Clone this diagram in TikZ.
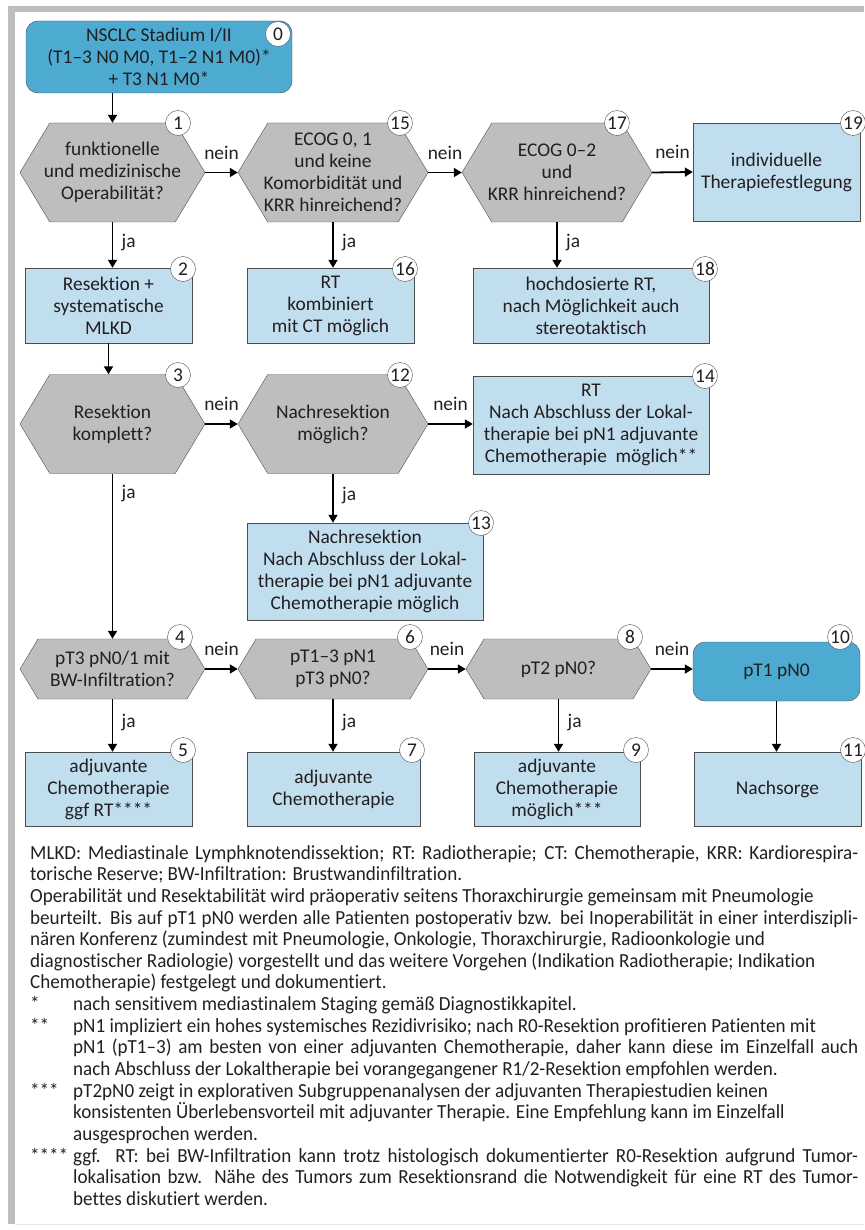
\documentclass[tikz,border=0pt]{standalone}
\usepackage{fontspec}
\setmainfont{Carlito}[Ligatures={TeX,NoCommon}]
\newfontfamily\notefont{Carlito}[Ligatures={TeX,NoCommon}, FakeStretch=0.955]
\usetikzlibrary{arrows.meta,shapes.symbols}
\definecolor{grau}{HTML}{BCBEC0}
\definecolor{hellblau}{HTML}{C1DEEF}
\definecolor{dunkelblau}{HTML}{4DAAD1}
\definecolor{linie}{HTML}{4D4D4F}
\definecolor{schrift}{HTML}{231F20}

\begin{document}
\begin{tikzpicture}[x=1pt,y=-1pt,
    every node/.style={text=schrift, font=\fontsize{19.4}{22}\selectfont},
    gr/.style 2 args={minimum width=#1pt, minimum height=#2pt},
    frage/.style={signal, signal to=west and east, signal pointer angle=118, draw=linie, fill=grau, inner xsep=-15pt, inner ysep=0pt, gr={185}{99}, align=center},
    kasten/.style={rectangle, draw=linie, fill=hellblau, inner sep=0pt, align=center},
    start/.style={kasten, fill=dunkelblau, rounded corners=12pt},
    nr/.style={circle, draw=linie, fill=white, inner sep=0pt, minimum size=25pt},
    pfeil/.style={line width=1.8pt, -{Triangle[length=8pt,width=9pt]}}]
    \useasboundingbox (0,0) rectangle (864,1230);
    \fill[grau] (8,6) rectangle (864,12);
    \fill[grau] (8,12) rectangle (15,1224);
    \draw[grau!40] (15,1224.5) -- (864,1224.5);

    \node[start, gr={266}{72}] (n0) at (159,57) {NSCLC Stadium I/II\\(T1--3 N0 M0, T1--2 N1 M0)*\\+ T3 N1 M0*};
    \node[frage] (f1) at (112.5,172.5) {funktionelle\\und medizinische\\Operabilität?};
    \node[frage, minimum width=190pt] (f15) at (333,172.5) {ECOG 0, 1\\und keine\\Komorbidität und\\KRR hinreichend?};
    \node[frage, minimum width=190pt] (f17) at (557,172.5) {ECOG 0--2\\und\\KRR hinreichend?};
    \node[kasten, gr={167}{98}] (b19) at (776.5,172) {individuelle\\Therapiefestlegung};
    \node[kasten, gr={167}{75}] (b2) at (108.5,305.5) {Resektion +\\systematische\\MLKD};
    \node[kasten, gr={167}{75}] (b16) at (330.5,305.5) {RT\\kombiniert\\mit CT möglich};
    \node[kasten, gr={236}{75}] (b18) at (591,305.5) {hochdosierte RT,\\nach Möglichkeit auch\\stereotaktisch};
    \node[frage] (f3) at (112.5,424) {Resektion\\komplett?};
    \node[frage, minimum width=190pt] (f12) at (333,424) {Nachresektion\\möglich?};
    \node[kasten, gr={236}{98}] (b14) at (591,425) {RT\\Nach Abschluss der Lokal-\\therapie bei pN1 adjuvante\\Chemotherapie\ \ möglich**};
    \node[kasten, gr={236}{97}] (b13) at (365,571.5) {Nachresektion\\Nach Abschluss der Lokal-\\therapie bei pN1 adjuvante\\Chemotherapie möglich};
    \node[frage, minimum height=60pt] (f4) at (112.5,669) {pT3 pN0/1 mit\\BW-Infiltration?};
    \node[frage, gr={190}{60}] (f6) at (333,669) {pT1--3 pN1\\pT3 pN0?};
    \node[frage, minimum height=60pt] (f8) at (558.5,669) {pT2 pN0?};
    \node[start, gr={167}{59}] (b10) at (776.5,671.5) {pT1 pN0};
    \node[kasten, gr={167}{74}] (b5) at (108.5,789) {adjuvante\\Chemotherapie\\ggf RT****};
    \node[kasten, gr={173}{74}] (b7) at (333.5,789) {adjuvante\\Chemotherapie};
    \node[kasten, gr={166}{74}] (b9) at (557,789) {adjuvante\\Chemotherapie\\möglich***};
    \node[kasten, gr={167}{74}] (b11) at (777.5,789) {Nachsorge};

    \node[nr] (k0) at (278,34) {0};
    \node[nr] (k1) at (178,123) {1};
    \node[nr] (k15) at (400,123) {15};
    \node[nr] (k17) at (617,123) {17};
    \node[nr] (k19) at (853,123) {19};
    \node[nr] (k2) at (183,269) {2};
    \node[nr] (k16) at (405,269) {16};
    \node[nr] (k18) at (705,269) {18};
    \node[nr] (k3) at (178,375) {3};
    \node[nr] (k12) at (400,375) {12};
    \node[nr] (k14) at (705,376) {14};
    \node[nr] (k13) at (481,523) {13};
    \node[nr] (k4) at (180,637) {4};
    \node[nr] (k6) at (410,637) {6};
    \node[nr] (k8) at (630,637) {8};
    \node[nr] (k10) at (840,637) {10};
    \node[nr] (k5) at (183,750) {5};
    \node[nr] (k7) at (412,750) {7};
    \node[nr] (k9) at (636,750) {9};
    \node[nr] (k11) at (853,750) {11};

    \draw[pfeil] (n0.south -| f1.north) -- (f1.north);
    \draw[pfeil] (f1.east) -- node[above=9pt] {nein} (f15.west);
    \draw[pfeil] (f15.east) -- node[above=9pt] {nein} (f17.west);
    \draw[pfeil] (f17.east) -- node[above=9pt] {nein} (b19.west);
    \draw[pfeil] (f1.south) -- node[right=5pt, pos=0.45] {ja} (f1.south |- b2.north);
    \draw[pfeil] (f15.south) -- node[right=5pt, pos=0.45] {ja} (f15.south |- b16.north);
    \draw[pfeil] (f17.south) -- node[right=5pt, pos=0.45] {ja} (f17.south |- b18.north);
    \draw[pfeil] (b2.south) -- (b2.south |- f3.north);
    \draw[pfeil] (f3.east) -- node[above=9pt] {nein} (f12.west);
    \draw[pfeil] (f12.east) -- node[above=9pt] {nein} (f12.east -| b14.west);
    \draw[pfeil] (f12.south) -- node[right=5pt, pos=0.45] {ja} (f12.south |- b13.north);
    \draw[pfeil] (f3.south) -- node[right=5pt, pos=0.12] {ja} (f4.north);
    \draw[pfeil] (f4.east) -- node[above=9pt] {nein} (f6.west);
    \draw[pfeil] (f6.east) -- node[above=9pt] {nein} (f8.west);
    \draw[pfeil] (f8.east) -- node[above=9pt] {nein} (f8.east -| b10.west);
    \draw[pfeil] (f4.south) -- node[right=5pt, pos=0.45] {ja} (f4.south |- b5.north);
    \draw[pfeil] (f6.south) -- node[right=5pt, pos=0.45] {ja} (f6.south |- b7.north);
    \draw[pfeil] (f8.south) -- node[right=5pt, pos=0.45] {ja} (f8.south |- b9.north);
    \draw[pfeil] (b10.south) -- (b10.south |- b11.north);

    \node[anchor=north west, inner sep=0pt, text width=828pt, align=justify, font=\notefont\fontsize{20}{21.65}\selectfont] (legende) at (30,845) {%
        \parindent=0pt
        MLKD: Mediastinale Lymphknotendissektion; RT: Radiotherapie; CT: Chemotherapie, KRR: Kardiorespira-\linebreak torische Reserve; BW-Infiltration: Brustwandinfiltration.\par
        Operabilität und Resektabilität wird präoperativ seitens Thoraxchirurgie gemeinsam mit Pneumologie\\ beurteilt. Bis auf pT1 pN0 werden alle Patienten postoperativ bzw. bei Inoperabilität in einer interdiszipli-\linebreak nären Konferenz (zumindest mit Pneumologie, Onkologie, Thoraxchirurgie, Radioonkologie und\\ diagnostischer Radiologie) vorgestellt und das weitere Vorgehen (Indikation Radiotherapie; Indikation\\ Chemotherapie) festgelegt und dokumentiert.\par
        \hangindent=43pt\hangafter=1\makebox[43pt][l]{*}nach sensitivem mediastinalem Staging gemäß Diagnostikkapitel.\par
        \hangindent=43pt\hangafter=1\makebox[43pt][l]{**}pN1 impliziert ein hohes systemisches Rezidivrisiko; nach R0-Resektion profitieren Patienten mit\\ pN1 (pT1--3) am besten von einer adjuvanten Chemotherapie, daher kann diese im Einzelfall auch\linebreak nach Abschluss der Lokaltherapie bei vorangegangener R1/2-Resektion empfohlen werden.\par
        \hangindent=43pt\hangafter=1\makebox[43pt][l]{***}pT2pN0 zeigt in explorativen Subgruppenanalysen der adjuvanten Therapiestudien keinen\\ konsistenten Überlebensvorteil mit adjuvanter Therapie. Eine Empfehlung kann im Einzelfall\\ ausgesprochen werden.\par
        \hangindent=43pt\hangafter=1\makebox[43pt][l]{****}ggf. RT: bei BW-Infiltration kann trotz histologisch dokumentierter R0-Resektion aufgrund Tumor-\linebreak lokalisation bzw. Nähe des Tumors zum Resektionsrand die Notwendigkeit für eine RT des Tumor-\linebreak bettes diskutiert werden.\par};
\end{tikzpicture}
\end{document}
